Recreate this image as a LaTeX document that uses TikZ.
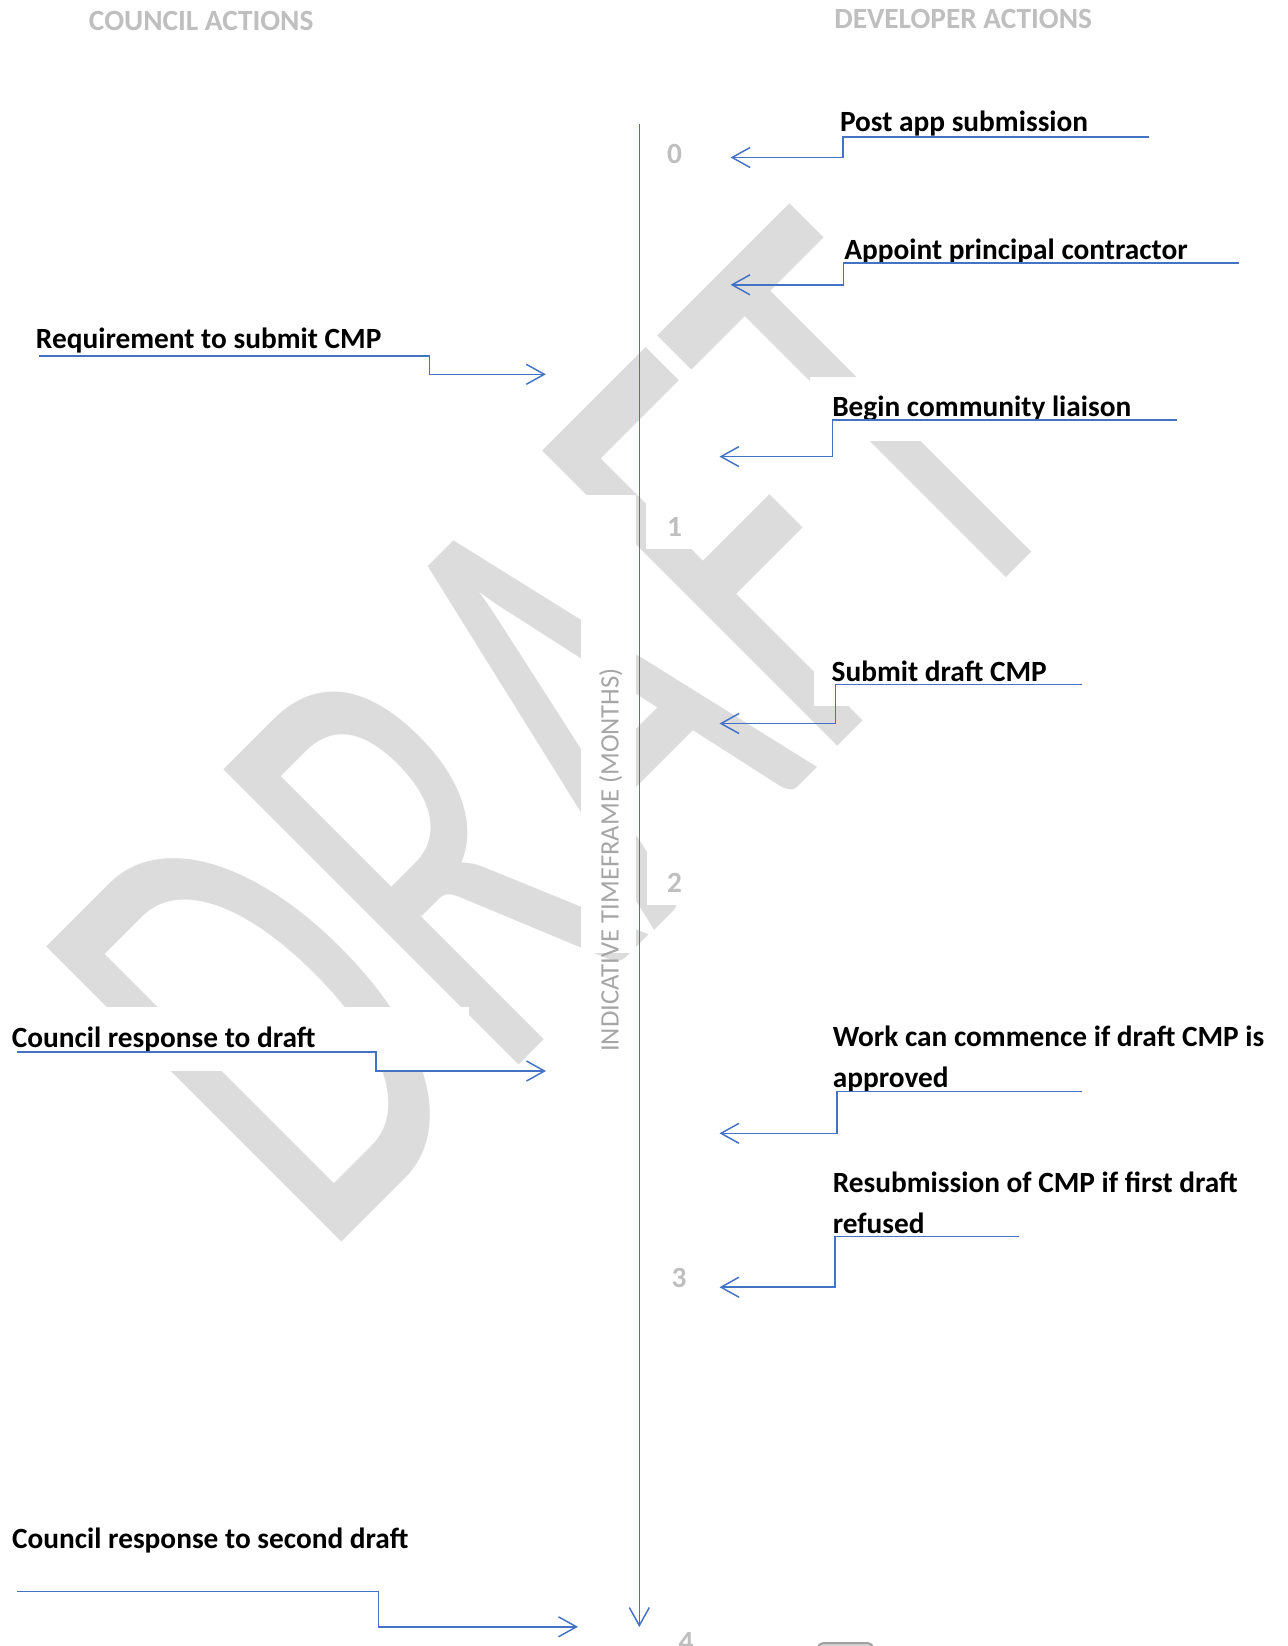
\documentclass[tikz,border=0pt]{standalone}
\usepackage{fontspec}
\setmainfont{Carlito}
\usetikzlibrary{arrows.meta}
\definecolor{arrowblue}{RGB}{68,114,196}
\definecolor{hdrgray}{RGB}{191,191,191}
\definecolor{axisgray}{RGB}{166,166,166}
\definecolor{wmgray}{RGB}{220,220,220}
\tikzset{
  lbl/.style={font=\fontsize{22}{30.5}\selectfont\bfseries, inner sep=0pt, anchor=base west, align=left},
  hdr/.style={font=\fontsize{22}{26}\selectfont\bfseries, text=hdrgray, inner sep=0pt, anchor=base west},
  num/.style={font=\fontsize{22}{26}\selectfont\bfseries, text=hdrgray, inner sep=0pt, anchor=base},
  conn/.style={draw=arrowblue, line width=1.1pt, -{Straight Barb[length=13.5pt,width=15pt]}},
  maskbox/.style={fill=white, draw=none}
}
\begin{document}
\begin{tikzpicture}[x=0.75pt,y=-0.75pt]
\useasboundingbox[fill=white] (0,0) rectangle (1288,1646);
% watermark
\node[rotate=45, inner sep=0pt, text=wmgray] (wm) at (558,731)
  {\scalebox{0.62}[1]{\fontsize{488}{488}\selectfont DRAFT}};
% white text-box areas that hide parts of the watermark
\fill[maskbox] (581,495) rectangle (636,953);
\fill[maskbox] (646,495) rectangle (696,549);
\fill[maskbox] (647,830) rectangle (700,905);
\fill[maskbox] (810,377) rectangle (1200,441);
\fill[maskbox] (814,659) rectangle (1100,706);
\fill[maskbox] (0,1007) rectangle (469,1071);
% partial shape at bottom edge
\begin{scope}
\clip (0,0) rectangle (1288,1646);
\draw[draw=gray!75, fill=gray!35, line width=1.5pt, rounded corners=4pt] (818,1643) rectangle (873,1670);
\end{scope}
% headers
\node[hdr] (hc) at (88.7,30) {COUNCIL ACTIONS};
\node[hdr] (hd) at (834,28.5) {DEVELOPER ACTIONS};
% timeline
\coordinate (axtop) at (639.3,124);
\coordinate (axbot) at (639.3,1627);
\draw[conn] (axtop) -- (axbot);
\node[rotate=90, anchor=base, inner sep=0pt, text=axisgray, font=\fontsize{20}{24}\selectfont] (axlab) at (618.5,860) {INDICATIVE TIMEFRAME (MONTHS)};
% month numbers
\node[num] (m0) at (674.5,163) {0};
\node[num] (m1) at (674.5,536.5) {1};
\node[num] (m2) at (674.5,892.5) {2};
\node[num] (m3) at (679,1287) {3};
\node[num] (m4) at (686,1651) {4};
% developer actions
\node[lbl] (d1) at (839.8,131.5) {Post app submission};
\coordinate (d1s) at (1149.4,137);
\coordinate (d1k) at (843,157.5);
\coordinate (d1t) at (730.6,157.5);
\draw[conn] (d1s) -| (d1k) -- (d1t);

\node[lbl] (d2) at (844,259.5) {Appoint principal contractor};
\coordinate (d2s) at (1238.6,263);
\coordinate (d2k) at (843.5,284.8);
\coordinate (d2t) at (730.5,284.8);
\draw[conn] (d2s) -| (d2k) -- (d2t);

\node[lbl] (d3) at (832,416.5) {Begin community liaison};
\coordinate (d3s) at (1176.7,419.8);
\coordinate (d3k) at (832.4,456.6);
\coordinate (d3t) at (719.5,456.6);
\draw[conn] (d3s) -| (d3k) -- (d3t);

\node[lbl] (d4) at (831.4,681) {Submit draft CMP};
\coordinate (d4s) at (1082.2,684.6);
\coordinate (d4k) at (835.7,723.5);
\coordinate (d4t) at (719.5,723.5);
\draw[conn] (d4s) -| (d4k) -- (d4t);

\node[lbl] (d5) at (832.5,1087.3) {Work can commence if draft CMP is\\approved};
\coordinate (d5s) at (1082.2,1091.3);
\coordinate (d5k) at (836.9,1133.3);
\coordinate (d5t) at (719.5,1133.3);
\draw[conn] (d5s) -| (d5k) -- (d5t);

\node[lbl] (d6) at (832.5,1233.5) {Resubmission of CMP if first draft\\refused};
\coordinate (d6s) at (1019.3,1236.6);
\coordinate (d6k) at (834.8,1287.2);
\coordinate (d6t) at (719.5,1287.2);
\draw[conn] (d6s) -| (d6k) -- (d6t);
% council actions
\node[lbl] (c1) at (35.7,348) {Requirement to submit CMP};
\coordinate (c1s) at (38.8,355.8);
\coordinate (c1k) at (429.5,374.3);
\coordinate (c1t) at (545.8,374.3);
\draw[conn] (c1s) -| (c1k) -- (c1t);

\node[lbl] (c2) at (11.5,1047) {Council response to draft};
\coordinate (c2s) at (16.5,1051.8);
\coordinate (c2k) at (376,1071);
\coordinate (c2t) at (546,1071);
\draw[conn] (c2s) -| (c2k) -- (c2t);

\node[lbl] (c3) at (11.8,1548.3) {Council response to second draft};
\coordinate (c3s) at (17,1591.5);
\coordinate (c3k) at (378.5,1626.8);
\coordinate (c3t) at (578,1626.8);
\draw[conn] (c3s) -| (c3k) -- (c3t);
\end{tikzpicture}
\end{document}
